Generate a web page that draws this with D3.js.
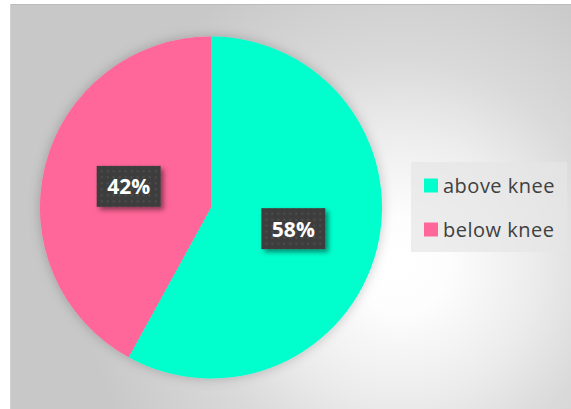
<html>
<head>
<meta charset="utf-8">
<style>
  body { margin: 0; background: #fff; }
  svg { display: block; }
</style>
</head>
<body>
<div id="chart"><svg></svg></div>
<script src="https://d3js.org/d3.v7.min.js"></script>
<script>
// chart data
var categories = ["above knee", "below knee"]
var values = [58, 42]
var labels = ["58%", "42%"]
var colors = ["#00FFCC", "#FF6699"]

var screen = {width: 571, height: 409}
var frame = {x: 10, y: 4, width: 561, height: 405}
var center = {x: 211, y: 207.5}
var radius = 171

var svg = d3.select("#chart svg")
            .attr("width", screen.width)
            .attr("height", screen.height)

var defs = svg.append("defs")

// grey radial background, bright spot right of the pie
var grad = defs.append("radialGradient")
               .attr("id", "bg")
               .attr("gradientUnits", "userSpaceOnUse")
               .attr("cx", 400).attr("cy", 265).attr("r", 320)
               .attr("fx", 400).attr("fy", 265)
var stops = [[0, "#ffffff"], [0.15, "#fdfdfd"], [0.42, "#ececec"], [0.64, "#dadada"], [1, "#c8c8c8"]]
grad.selectAll("stop")
    .data(stops)
    .enter()
    .append("stop")
    .attr("offset", function(d){return d[0]})
    .attr("stop-color", function(d){return d[1]})

// soft halo around the pie
var halo = defs.append("filter")
               .attr("id", "halo")
               .attr("x", "-20%").attr("y", "-20%").attr("width", "140%").attr("height", "140%")
halo.append("feDropShadow")
    .attr("dx", 0).attr("dy", 0)
    .attr("stdDeviation", 6)
    .attr("flood-color", "#000")
    .attr("flood-opacity", 0.22)

// shadow under the label boxes
var boxShadow = defs.append("filter")
                    .attr("id", "boxShadow")
                    .attr("x", "-30%").attr("y", "-30%").attr("width", "160%").attr("height", "160%")
boxShadow.append("feDropShadow")
    .attr("dx", 3).attr("dy", 3)
    .attr("stdDeviation", 2.5)
    .attr("flood-color", "#000")
    .attr("flood-opacity", 0.45)

// dotted fill of label boxes
var dots = defs.append("pattern")
               .attr("id", "dots")
               .attr("patternUnits", "userSpaceOnUse")
               .attr("width", 6).attr("height", 6)
dots.append("rect").attr("width", 6).attr("height", 6).attr("fill", "#3e3e3e")
dots.append("rect").attr("x", 2).attr("y", 2).attr("width", 2).attr("height", 2).attr("fill", "#4d4d4d")

svg.append("rect")
   .attr("x", frame.x).attr("y", frame.y)
   .attr("width", frame.width).attr("height", frame.height)
   .attr("fill", "url(#bg)")
svg.append("line")
   .attr("x1", frame.x).attr("x2", frame.x + frame.width)
   .attr("y1", frame.y + 0.5).attr("y2", frame.y + 0.5)
   .attr("stroke", "#bcbcbc")
svg.append("line")
   .attr("x1", frame.x + 0.5).attr("x2", frame.x + 0.5)
   .attr("y1", frame.y).attr("y2", frame.y + frame.height)
   .attr("stroke", "#d2d2d2")

var pie = d3.pie().sort(null).value(function(d){return d})
var arcs = pie(values)
var arc = d3.arc().innerRadius(0).outerRadius(radius)
var labelArc = d3.arc().innerRadius(85).outerRadius(85)

var plot = svg.append("g")
              .attr("transform", "translate(" + center.x + "," + center.y + ")")

plot.append("g")
    .attr("filter", "url(#halo)")
    .selectAll("path")
    .data(arcs)
    .enter()
    .append("path")
    .attr("d", arc)
    .attr("fill", function(d, i){return colors[i]})

var box = {width: 64, height: 41}
var tags = plot.selectAll(".tag")
               .data(arcs)
               .enter()
               .append("g")
               .classed("tag", true)
               .attr("transform", function(d){
                   var c = labelArc.centroid(d)
                   return "translate(" + c[0] + "," + c[1] + ")"
               })
tags.append("rect")
    .attr("x", -box.width / 2).attr("y", -box.height / 2)
    .attr("width", box.width).attr("height", box.height)
    .attr("fill", "url(#dots)")
    .attr("filter", "url(#boxShadow)")
tags.append("text")
    .text(function(d, i){return labels[i]})
    .attr("text-anchor", "middle")
    .attr("y", 8)
    .attr("fill", "#ffffff")
    .style("font-family", "'Open Sans', sans-serif")
    .style("font-weight", "bold")
    .style("font-size", "21px")

// legend
var legend = svg.append("g").attr("transform", "translate(411,162)")
legend.append("rect")
      .attr("width", 156).attr("height", 90)
      .attr("fill", "rgba(230,230,230,0.7)")
var items = legend.selectAll(".item")
                  .data(categories)
                  .enter()
                  .append("g")
                  .classed("item", true)
                  .attr("transform", function(d, i){return "translate(13," + (16.5 + i * 44) + ")"})
items.append("rect")
     .attr("width", 14).attr("height", 14)
     .attr("fill", function(d, i){return colors[i]})
items.append("text")
     .text(function(d){return d})
     .attr("x", 19).attr("y", 14)
     .attr("fill", "#404040")
     .style("font-family", "'Open Sans', sans-serif")
     .style("font-size", "20px")
     .style("letter-spacing", "0.5px")
</script>
</body>
</html>
